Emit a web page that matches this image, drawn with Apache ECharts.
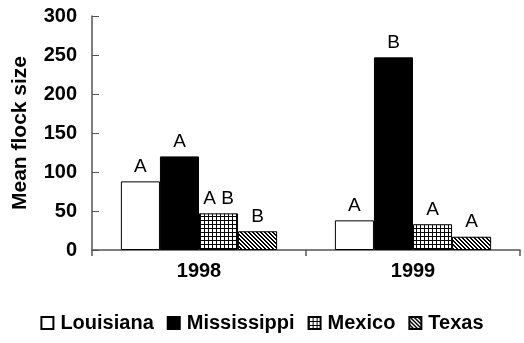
<!DOCTYPE html>
<html><head><meta charset="utf-8">
<script src="https://cdn.jsdelivr.net/npm/echarts@6/dist/echarts.min.js"></script>
<style>html,body{margin:0;padding:0;background:#fff}#c{width:524px;height:343px}</style>
</head><body><div id="c"></div>
<script>
const categories = ['1998', '1999'];
const seriesNames = ['Louisiana', 'Mississippi', 'Mexico', 'Texas'];
const louisiana = [88, 38];
const mississippi = [120, 247];
const mexico = [47, 33];
const texas = [24, 17];
const louisianaLetters = ['A', 'A'];
const mississippiLetters = ['A', 'B'];
const mexicoLetters = ['A B', 'A'];
const texasLetters = ['B', 'A'];
const yTicks = [0, 50, 100, 150, 200, 250, 300];

function gridPattern() {
  const c = document.createElement('canvas');
  c.width = 4; c.height = 4;
  const g = c.getContext('2d');
  g.fillStyle = '#fff'; g.fillRect(0, 0, 4, 4);
  g.fillStyle = '#000';
  g.fillRect(0, 0, 4, 1);
  g.fillRect(0, 0, 1, 4);
  return { image: c, repeat: 'repeat' };
}
function hatchPattern() {
  const n = 4;
  const c = document.createElement('canvas');
  c.width = n; c.height = n;
  const g = c.getContext('2d');
  g.fillStyle = '#fff'; g.fillRect(0, 0, n, n);
  g.fillStyle = '#000';
  for (let i = 0; i < n; i++) { g.fillRect(i, i, 1, 1); g.fillRect((i + 1) % n, i, 1, 1); }
  return { image: c, repeat: 'repeat' };
}

const fills = ['#ffffff', '#000000', gridPattern(), hatchPattern()];
const values = [louisiana, mississippi, mexico, texas];
const letters = [louisianaLetters, mississippiLetters, mexicoLetters, texasLetters];

const chart = echarts.init(document.getElementById('c'), null, { renderer: 'canvas' });
chart.setOption({
  animation: false,
  textStyle: { fontFamily: 'Liberation Sans, Arial, sans-serif' },
  grid: { left: 92, right: 4, top: 16, bottom: 93, containLabel: false },
  legend: {
    bottom: 5, left: 'center',
    itemWidth: 12, itemHeight: 12, itemGap: 13,
    icon: 'rect',
    textStyle: { fontSize: 20, fontWeight: 'bold', color: '#000', padding: [0, 0, 0, 2] },
    data: seriesNames
  },
  xAxis: {
    type: 'category', data: categories,
    axisLine: { lineStyle: { color: '#555', width: 1.5 } },
    axisTick: { show: true, length: 6, lineStyle: { color: '#555', width: 1.5 } },
    axisLabel: { fontSize: 20, fontWeight: 'bold', color: '#000', margin: 11 }
  },
  yAxis: {
    type: 'value', min: yTicks[0], max: yTicks[yTicks.length - 1], interval: 50,
    name: 'Mean flock size', nameLocation: 'middle', nameGap: 61,
    nameTextStyle: { fontSize: 21, fontWeight: 'bold', color: '#000' },
    axisLine: { show: true, lineStyle: { color: '#555', width: 1.5 } },
    axisTick: { show: true, inside: true, length: 7, lineStyle: { color: '#555', width: 1 } },
    splitLine: { show: false },
    axisLabel: { fontSize: 20, fontWeight: 'bold', color: '#000', margin: 15 }
  },
  series: seriesNames.map((name, i) => ({
    name, type: 'bar', data: values[i],
    barGap: '0%', barCategoryGap: '27%',
    itemStyle: { color: fills[i], borderColor: '#000', borderWidth: 1 },
    label: {
      show: true, position: 'top', distance: 5,
      fontSize: 19, color: '#000',
      formatter: p => letters[i][p.dataIndex]
    }
  }))
});
</script></body></html>
